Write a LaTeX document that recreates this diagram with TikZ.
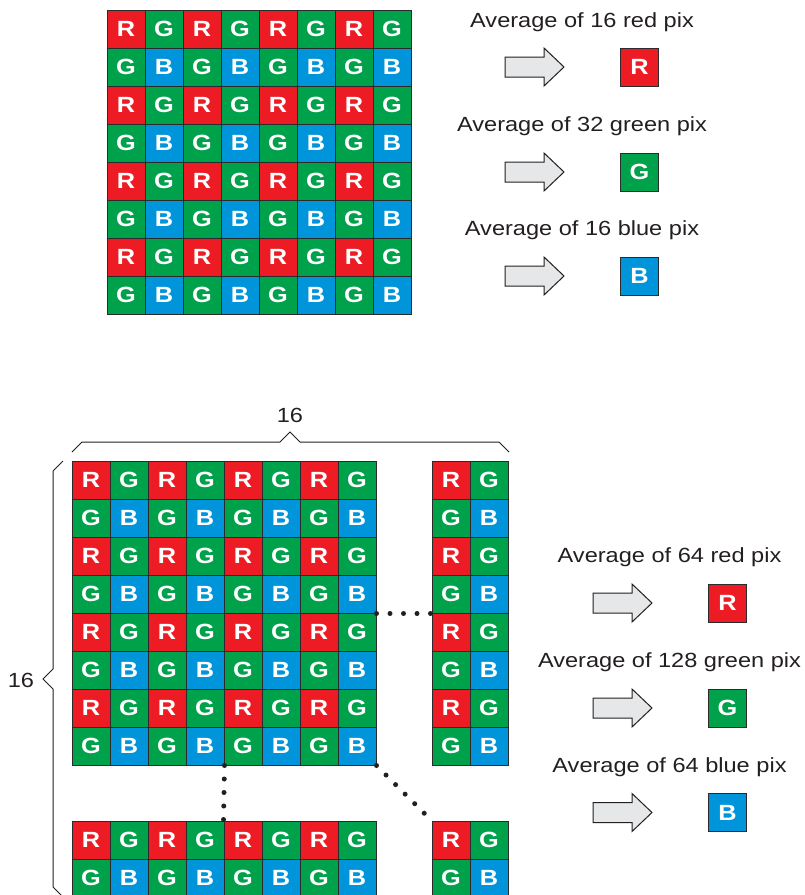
\documentclass[tikz,border=0pt]{standalone}
\usepackage{fontspec}
\setmainfont[FakeStretch=1.15]{Liberation Sans}
\usepackage{xcolor}

\definecolor{cR}{HTML}{ED1C24}
\definecolor{cG}{HTML}{00A14B}
\definecolor{cB}{HTML}{0095DA}
\definecolor{ink}{HTML}{231F20}
\definecolor{edge}{HTML}{2B2B2B}
\definecolor{arrowgray}{HTML}{E6E7E8}

\begin{document}
\begin{tikzpicture}[
  x=1pt, y=-1pt,
  cell/.style={draw=edge, line width=1pt, minimum size=38pt, inner sep=0pt, text=white, font=\bfseries\fontsize{22}{22}\selectfont},
  lbl/.style={text=ink, inner sep=0pt, font=\fontsize{20.5}{24}\selectfont},
  brace/.style={draw=ink, line width=1pt},
  dots/.style={draw=ink, line width=5pt, line cap=round, dash pattern=on 0pt off 13.5pt},
  blockarrow/.pic={\draw[draw=ink, fill=arrowgray, line width=1pt] (0,-10) -- (39,-10) -- (39,-19) -- (59,0) -- (39,19) -- (39,10) -- (0,10) -- cycle;}
]
\useasboundingbox (0,0) rectangle (804,895);

% Bayer blocks: name/left/top/rows/cols
\foreach \blk/\ox/\oy/\nr/\nc in {top/107/10/8/8, main/72/461/8/8, side/432/461/8/2, low/72/821/2/8, corner/432/821/2/2}{
  \foreach \r in {1,...,\nr}{
    \foreach \c in {1,...,\nc}{
      \pgfmathtruncatemacro{\k}{2*mod(\r-1,2)+mod(\c-1,2)}
      \edef\ch{\ifcase\k R\or G\or G\or B\fi}
      \node[cell, fill=c\ch] (\blk-\r-\c) at (\ox+38*\c-19, \oy+38*\r-19) {\ch};
    }
  }
}

% dotted links between blocks
\draw[dots] (main-4-8.south east) -- (side-4-1.south west);
\draw[dots] (main-8-4.south east) -- (low-1-5.north west);
\draw[dots] (main-8-8.south east) -- (corner-1-1.north west);

% braces
\draw[brace] (72,452) -- (82,442) -- (280,442) -- (290,432) -- (300,442) -- (499,442) -- (509,452);
\node[lbl] (topcount) at (290,415) {16};
\draw[brace] (63,461) -- (53,471) -- (53,669) -- (43,679) -- (53,689) -- (53,887) -- (63,897);
\node[lbl] (sidecount) at (21,680) {16};

% averages, 8x8 block
\node[lbl] (avgR) at (582,22) {Average of 16 red pix};
\pic at (505,67) {blockarrow};
\node[cell, fill=cR] (outR) at (639.5,67) {R};
\node[lbl] (avgG) at (582,126) {Average of 32 green pix};
\pic at (505,172) {blockarrow};
\node[cell, fill=cG] (outG) at (639.5,172) {G};
\node[lbl] (avgB) at (582,230) {Average of 16 blue pix};
\pic at (505,276) {blockarrow};
\node[cell, fill=cB] (outB) at (639.5,276) {B};

% averages, 16x16 block
\node[lbl] (bigavgR) at (669.5,557) {Average of 64 red pix};
\pic at (593,603) {blockarrow};
\node[cell, fill=cR] (bigoutR) at (727.5,603) {R};
\node[lbl] (bigavgG) at (669.5,662) {Average of 128 green pix};
\pic at (593,708) {blockarrow};
\node[cell, fill=cG] (bigoutG) at (727.5,708) {G};
\node[lbl] (bigavgB) at (669.5,767) {Average of 64 blue pix};
\pic at (593,812.5) {blockarrow};
\node[cell, fill=cB] (bigoutB) at (727.5,812.5) {B};
\end{tikzpicture}
\end{document}
